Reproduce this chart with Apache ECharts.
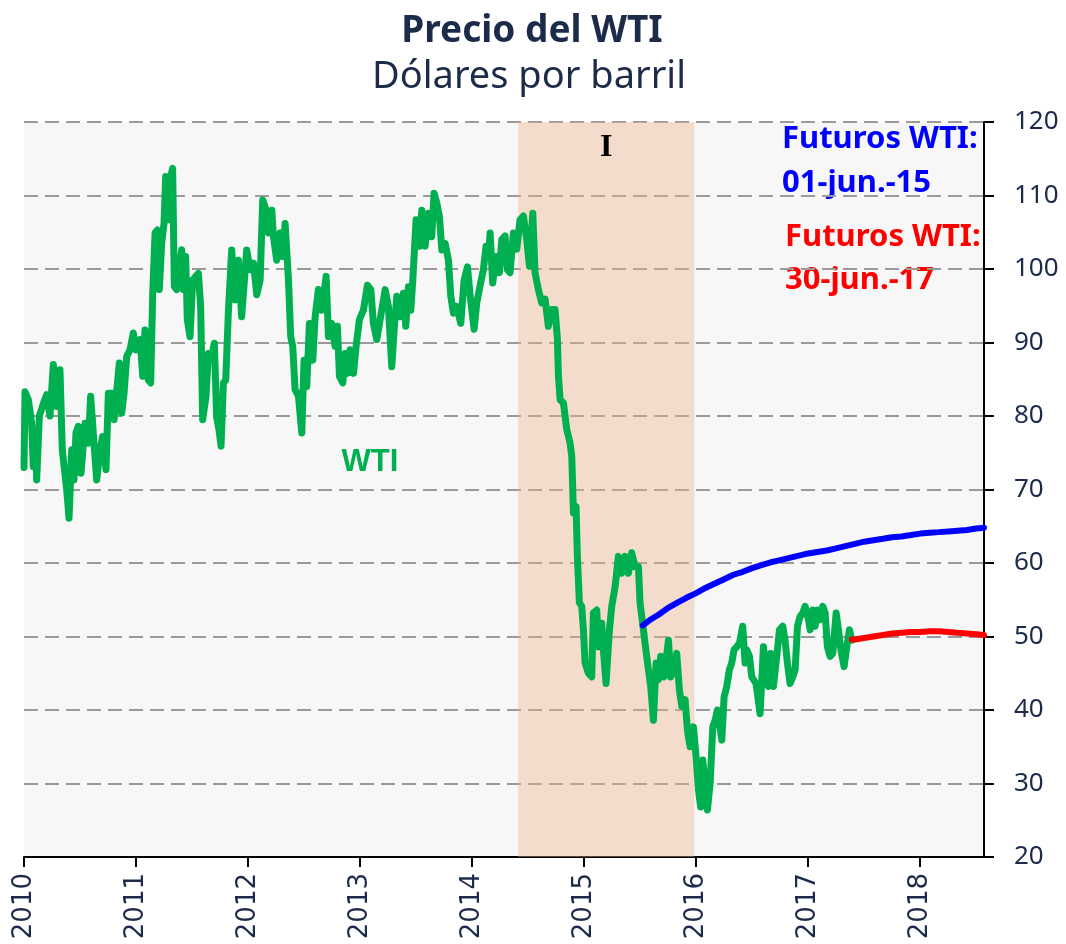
<!DOCTYPE html>
<html>
<head>
<meta charset="utf-8">
<title>Precio del WTI</title>
<script src="https://cdn.jsdelivr.net/npm/echarts@6/dist/echarts.min.js"></script>
<style>
  html, body { margin: 0; padding: 0; background: #fff; }
  #main { width: 1066px; height: 944px; }
</style>
</head>
<body>
<div id="main"></div>
<script>
// WTI spot (x = decimal year, y = USD/barrel)
const wtiYears = [
  2010.000,2010.009,2010.039,2010.068,2010.083,2010.107,2010.113,2010.137,2010.173,2010.202,
  2010.232,2010.262,2010.292,2010.321,2010.342,2010.381,2010.402,2010.426,2010.446,2010.464,
  2010.485,2010.509,2010.545,2010.574,2010.595,2010.625,2010.649,2010.679,2010.702,2010.732,
  2010.753,2010.792,2010.804,2010.851,2010.872,2010.893,2010.917,2010.946,2010.976,2011.000,
  2011.036,2011.060,2011.080,2011.110,2011.131,2011.149,2011.170,2011.190,2011.208,2011.229,
  2011.250,2011.265,2011.289,2011.310,2011.327,2011.342,2011.363,2011.387,2011.408,2011.423,
  2011.443,2011.458,2011.482,2011.506,2011.533,2011.557,2011.577,2011.595,2011.625,2011.646,
  2011.676,2011.699,2011.720,2011.741,2011.759,2011.780,2011.801,2011.824,2011.854,2011.884,
  2011.914,2011.943,
  2011.988,2012.018,2012.048,2012.078,2012.108,2012.131,2012.161,2012.182,2012.212,2012.227,
  2012.256,2012.286,2012.310,2012.331,2012.361,2012.381,2012.399,2012.420,2012.450,2012.480,
  2012.500,2012.524,2012.548,2012.578,2012.599,2012.628,2012.658,2012.697,2012.718,2012.747,
  2012.777,2012.798,2012.816,2012.846,2012.867,2012.887,2012.911,2012.941,2012.965,2012.994,
  2013.030,2013.066,2013.096,2013.119,2013.149,2013.179,2013.224,2013.253,2013.283,2013.304,
  2013.328,2013.358,2013.387,2013.408,2013.432,2013.453,2013.471,2013.500,2013.530,2013.551,
  2013.581,2013.611,2013.640,2013.661,2013.685,2013.709,2013.730,2013.759,2013.789,2013.810,
  2013.834,2013.863,2013.899,2013.929,2013.959,2013.983,
  2014.018,2014.042,2014.071,2014.101,2014.125,2014.146,2014.161,2014.184,2014.214,2014.244,
  2014.265,2014.295,2014.315,2014.339,2014.369,2014.399,2014.428,2014.458,2014.488,2014.512,
  2014.542,2014.562,2014.592,2014.622,2014.652,2014.681,2014.711,2014.741,2014.762,2014.771,
  2014.786,2014.815,2014.845,2014.875,2014.890,2014.905,2014.928,2014.940,2014.958,2014.979,
  2014.994,2015.009,2015.038,2015.068,2015.083,2015.113,2015.128,2015.157,2015.172,2015.196,
  2015.226,2015.247,2015.277,2015.306,2015.336,2015.366,2015.396,2015.425,2015.455,2015.485,
  2015.500,2015.524,2015.544,2015.574,2015.595,2015.619,2015.643,2015.663,2015.684,2015.714,
  2015.732,2015.753,2015.774,2015.803,2015.827,2015.851,2015.872,2015.902,2015.922,2015.946,
  2015.976,2016.000,2016.021,2016.041,2016.059,2016.080,2016.101,2016.125,2016.149,2016.170,
  2016.190,2016.208,2016.229,2016.250,2016.274,2016.297,2016.318,2016.339,2016.363,2016.387,
  2016.416,2016.437,2016.452,2016.476,2016.497,2016.535,2016.571,2016.601,2016.625,2016.646,
  2016.667,2016.690,2016.720,2016.744,2016.774,2016.794,2016.815,2016.839,2016.863,2016.884,
  2016.905,2016.928,2016.952,2016.973,2017.003,2017.018,2017.041,2017.062,2017.083,2017.107,
  2017.131,2017.152,2017.172,2017.196,2017.220,2017.250,2017.271,2017.292,2017.321,2017.345,
  2017.369,2017.390
];
const wtiPrices = [
  73.0,83.3,82.2,79.0,73.1,77.2,71.3,80.0,81.7,82.9,
  80.0,87.0,81.3,86.3,75.4,70.0,66.1,75.4,71.3,77.7,
  78.6,72.2,79.0,76.3,82.7,76.3,71.3,75.4,77.2,72.7,
  83.1,83.1,79.5,87.2,80.4,83.1,88.1,89.0,91.3,89.0,
  90.4,85.4,91.7,84.9,84.5,96.7,104.9,105.3,97.2,103.5,
  106.2,112.6,106.7,112.6,113.7,97.6,97.2,100.3,102.6,97.2,
  101.7,93.1,90.8,98.5,99.0,99.4,94.9,79.5,82.7,88.5,
  88.1,89.9,79.8,78.1,75.9,84.5,84.9,94.0,102.6,95.8,
  101.2,93.5,
  102.6,99.9,100.8,96.5,98.5,109.4,108.0,104.9,108.0,104.4,
  101.2,104.9,101.7,106.2,98.5,90.8,89.5,83.6,82.7,77.7,
  87.6,84.0,92.6,87.6,93.5,97.2,94.4,99.0,90.8,92.6,
  89.5,92.2,85.4,84.5,88.5,85.8,89.0,85.8,89.5,93.1,
  94.4,97.8,97.2,92.6,90.4,93.1,97.2,94.9,86.7,91.7,
  96.3,93.5,96.7,92.2,97.6,94.4,98.5,106.7,103.1,108.0,
  103.1,107.6,104.4,110.3,109.0,107.1,102.6,103.5,101.2,96.3,
  94.0,94.9,92.6,98.5,100.3,96.3,
  91.8,95.4,97.7,99.9,103.1,101.7,104.9,98.1,101.7,99.5,
  104.0,104.5,99.9,99.5,104.9,102.7,106.7,107.2,104.0,100.4,
  107.6,99.5,97.2,95.4,95.9,92.2,94.5,94.5,90.4,85.4,
  82.2,81.8,78.2,76.3,74.5,66.8,67.7,60.9,54.6,54.1,
  50.9,46.4,45.0,44.5,53.2,53.6,48.6,51.8,48.2,43.6,
  50.9,54.1,56.8,60.9,58.6,60.9,58.6,61.4,59.5,59.5,
  54.5,51.6,49.1,45.5,43.2,38.6,46.4,44.1,47.3,44.5,
  46.8,49.5,44.5,45.5,47.7,42.7,40.5,41.4,37.3,35.0,
  37.7,33.6,29.1,26.8,33.2,30.0,26.4,30.0,37.7,38.6,
  40.0,38.2,35.9,41.8,43.2,45.5,46.4,48.2,48.6,49.1,
  51.4,46.4,48.2,47.3,44.5,43.6,39.5,48.6,45.5,43.2,
  47.7,43.2,47.3,50.9,51.4,49.5,46.4,43.6,44.5,45.5,
  51.4,52.7,53.2,54.1,52.3,50.9,53.6,51.4,53.6,52.3,
  54.1,53.2,48.6,47.3,47.7,53.2,50.9,48.2,45.9,48.6,
  50.9,49.5
];

// futures curve quoted 01-jun-15
const fut15Years = [
  2015.524,2015.583,2015.667,2015.750,2015.833,2015.917,2016.000,2016.083,2016.167,2016.250,
  2016.333,2016.417,2016.500,2016.583,2016.667,2016.750,2016.833,2016.917,2017.000,2017.083,
  2017.167,2017.250,2017.333,2017.417,2017.500,2017.583,2017.667,2017.750,2017.833,2017.917,
  2018.000,2018.083,2018.167,2018.250,2018.333,2018.417,2018.500,2018.570
];
const fut15Prices = [
  51.5,52.2,53.0,53.9,54.6,55.3,55.9,56.6,57.2,57.8,
  58.4,58.8,59.3,59.7,60.1,60.4,60.7,61.0,61.3,61.5,
  61.7,62.0,62.3,62.6,62.9,63.1,63.3,63.5,63.6,63.8,
  64.0,64.1,64.2,64.3,64.4,64.5,64.7,64.8
];

// futures curve quoted 30-jun-17
const fut17Years = [
  2017.390,2017.417,2017.500,2017.583,2017.667,2017.750,2017.833,2017.917,2018.000,2018.083,
  2018.167,2018.250,2018.333,2018.417,2018.500,2018.570
];
const fut17Prices = [
  49.6,49.6,49.8,50.0,50.2,50.4,50.5,50.6,50.6,50.7,
  50.7,50.6,50.5,50.4,50.3,50.2
];

const shadeFrom = 2014.411;
const shadeTo = 2015.985;
const xStart = 2010;
const xEnd = 2018.57;

const navy = '#1c2b4a';

function pairs(xs, ys) {
  return xs.map((x, i) => [x, ys[i]]);
}

const chart = echarts.init(document.getElementById('main'), null, { renderer: 'canvas' });

const option = {
  animation: false,
  backgroundColor: '#ffffff',
  title: [
    {
      text: 'Precio del WTI',
      left: 527, top: 8, textAlign: 'center',
      textStyle: { fontFamily: 'Noto Sans', fontSize: 37, fontWeight: 'bold', color: navy }
    },
    {
      text: 'Dólares por barril',
      left: 524, top: 53, textAlign: 'center',
      textStyle: { fontFamily: 'Noto Sans', fontSize: 38, fontWeight: 'normal', color: navy }
    }
  ],
  grid: {
    left: 24, right: 82, top: 122, bottom: 87,
    show: true, backgroundColor: '#f7f7f7', borderWidth: 0,
    outerBoundsMode: 'none'
  },
  xAxis: {
    type: 'value',
    min: xStart, max: xEnd, interval: 1,
    axisLine: { show: true, onZero: false, lineStyle: { color: '#000', width: 2 } },
    axisTick: { show: true, length: 10, lineStyle: { color: '#000', width: 2 } },
    splitLine: { show: false },
    axisLabel: {
      rotate: 90, margin: 16, showMaxLabel: false, showMinLabel: true,
      fontFamily: 'DejaVu Sans', fontSize: 26, color: navy,
      formatter: v => String(Math.round(v))
    }
  },
  yAxis: {
    type: 'value', position: 'right',
    min: 20, max: 120, interval: 10,
    axisLine: { show: true, lineStyle: { color: '#000', width: 2 } },
    axisTick: { show: true, length: 10, lineStyle: { color: '#000', width: 2 } },
    splitLine: { show: true, lineStyle: { color: '#9a9a9a', width: 2, type: [14, 7] } },
    axisLabel: { margin: 30, fontFamily: 'Noto Sans', fontSize: 26, color: navy }
  },
  series: [
    {
      name: 'WTI', type: 'line', showSymbol: false, symbol: 'none', z: 3,
      data: pairs(wtiYears, wtiPrices),
      lineStyle: { color: '#00b050', width: 7, join: 'round', cap: 'round' },
      markArea: {
        silent: true,
        itemStyle: { color: 'rgba(240,180,140,0.4)' },
        label: {
          show: true, position: 'insideTop', distance: 10,
          fontFamily: 'Liberation Serif', fontWeight: 'bold', fontSize: 32, color: '#000'
        },
        data: [[{ xAxis: shadeFrom, name: 'I' }, { xAxis: shadeTo }]]
      }
    },
    {
      name: 'Futuros WTI 01-jun.-15', type: 'line', showSymbol: false, symbol: 'none', z: 4,
      data: pairs(fut15Years, fut15Prices),
      lineStyle: { color: '#0000ff', width: 6, cap: 'round' }
    },
    {
      name: 'Futuros WTI 30-jun.-17', type: 'line', showSymbol: false, symbol: 'none', z: 4,
      data: pairs(fut17Years, fut17Prices),
      lineStyle: { color: '#ff0000', width: 6, cap: 'round' }
    }
  ],
  graphic: [
    { type: 'text', x: 370, y: 462, style: { text: 'WTI', fill: '#00b050', fontFamily: 'Liberation Sans', fontWeight: 'bold', fontSize: 31, textAlign: 'center', textVerticalAlign: 'middle' } },
    { type: 'text', x: 782, y: 139, style: { text: 'Futuros WTI:', fill: '#0000ff', fontFamily: 'Noto Sans', fontWeight: 'bold', fontSize: 31, textAlign: 'left', textVerticalAlign: 'middle' } },
    { type: 'text', x: 782, y: 183, style: { text: '01-jun.-15', fill: '#0000ff', fontFamily: 'Noto Sans', fontWeight: 'bold', fontSize: 31, textAlign: 'left', textVerticalAlign: 'middle' } },
    { type: 'text', x: 785, y: 237, style: { text: 'Futuros WTI:', fill: '#ff0000', fontFamily: 'Noto Sans', fontWeight: 'bold', fontSize: 31, textAlign: 'left', textVerticalAlign: 'middle' } },
    { type: 'text', x: 785, y: 280, style: { text: '30-jun.-17', fill: '#ff0000', fontFamily: 'Noto Sans', fontWeight: 'bold', fontSize: 31, textAlign: 'left', textVerticalAlign: 'middle' } }
  ]
};

chart.setOption(option);
</script>
</body>
</html>
